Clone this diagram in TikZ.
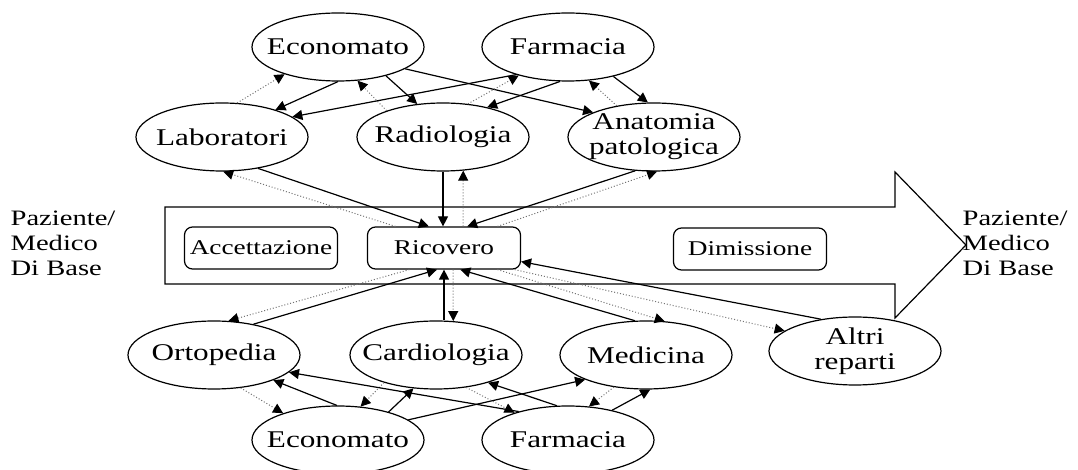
\documentclass[tikz,border=0pt]{standalone}
\usepackage{fontspec}
\setmainfont{Liberation Serif}[FakeStretch=1.3]
\usetikzlibrary{shapes.geometric,arrows.meta}

\tikzset{
  dept/.style={draw, ellipse, minimum width=86pt, minimum height=34pt, inner sep=0pt,
    label={[align=center, font=\fontsize{12}{12.5}\selectfont]center:#1}},
  phase/.style={draw, rounded corners=4pt, minimum width=76.5pt, minimum height=21pt,
    inner sep=0pt, font=\fontsize{10.5}{12}\selectfont},
  who/.style={align=left, anchor=west, inner sep=0pt, font=\fontsize{11}{12.5}\selectfont},
  flow/.style={-{Triangle[length=5pt,width=5pt]}, line width=0.6pt},
  req/.style={-{Triangle[length=5pt,width=5pt,color=black]}, densely dotted, line width=0.5pt, draw=black!55},
}

\begin{document}
\begin{tikzpicture}[x=0.5pt, y=-0.5pt, line width=0.6pt]
    \useasboundingbox (0,0) rectangle (1078,470);

    % Patient pathway
    \draw (165,207) -- (895,207) -- (895,172) -- (966,245) -- (895,318) -- (895,284) -- (165,284) -- cycle;
    \node[phase] (acc) at (261,248) {Accettazione};
    \node[phase] (ric) at (444,248) {Ricovero};
    \node[phase] (dim) at (750,249) {Dimissione};
    \node[who] (pin) at (10,243) {Paziente/\\Medico\\Di Base};
    \node[who] (pout) at (962,243) {Paziente/\\Medico\\Di Base};

    % Departments and services
    \foreach \n/\txt/\x/\y in {ecoT/Economato/338/47, farT/Farmacia/568/47,
        lab/Laboratori/222/137, rad/Radiologia/443/137, ana/Anatomia\\patologica/654/137,
        ort/Ortopedia/214/355, car/Cardiologia/436/355, med/Medicina/646/355,
        alt/Altri\\reparti/855/351, ecoB/Economato/338/440, farB/Farmacia/568/440} {
        \node[dept=\txt] (\n) at (\x,\y) {};
    }

    % Supplies to the services
    \draw[flow] (ecoT.270) -- (lab.27);
    \draw[req] (lab.66) -- (ecoT.207);
    \draw[flow] (ecoT.329) -- (rad.128);
    \draw[req] (rad.155) -- (ecoT.300);
    \draw[flow] (ecoT.342) -- (ana.158);
    \draw[flow] (farT.208) -- (lab.16);
    \draw[req] (rad.53) -- (farT.210);
    \draw[flow] (farT.257) -- (rad.34);
    \draw[flow] (farT.327) -- (ana.100);
    \draw[req] (ana.140) -- (farT.302);

    % Services and Ricovero
    \draw[flow] (lab.319) -- (ric.125);
    \draw[req] (ric.156) -- (lab.272);
    \draw[flow] (rad.south) -- (rad.south |- ric.north);
    \draw[req] ([xshift=9.5pt]ric.north) -- (rad.301);
    \draw[flow] (ana.241) -- (ric.43);
    \draw[req] (ric.22) -- (ana.275);

    % Wards and Ricovero
    \draw[flow] (ort.38) -- (ric.252);
    \draw[req] (ric.212) -- (ort.67);
    \draw[flow] (car.north -| ric.south) -- (ric.south);
    \draw[req] ([xshift=4.5pt]ric.south) -- (car.63);
    \draw[flow] (med.108) -- (ric.307);
    \draw[req] (ric.338) -- (med.61);
    \draw[flow] (alt.137) -- (ric.350);
    \draw[req] (ric.343) -- (alt.164);

    % Supplies to the wards
    \draw[req] (ort.309) -- (ecoB.154);
    \draw[flow] (ecoB.92) -- (ort.337);
    \draw[req] (car.208) -- (ecoB.56);
    \draw[flow] (ecoB.29) -- (car.236);
    \draw[flow] (ecoB.16) -- (med.202);
    \draw[flow] (farB.150) -- (ort.347);
    \draw[flow] (farB.108) -- (car.332);
    \draw[req] (car.313) -- (farB.153);
    \draw[req] (med.225) -- (farB.58);
    \draw[flow] (farB.34) -- (med.277);
\end{tikzpicture}
\end{document}
